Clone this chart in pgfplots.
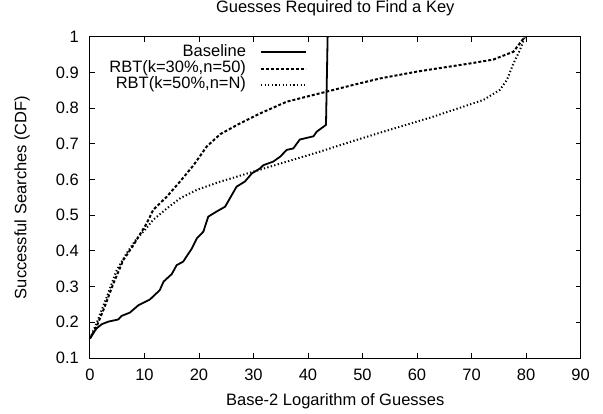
\documentclass[border=0pt]{standalone}
\usepackage{pgfplots}
\pgfplotsset{compat=1.18}
\usepackage{fontspec}
\setmainfont{Liberation Sans}

\begin{document}
\begin{tikzpicture}[font=\fontsize{16.56}{19}\selectfont]
\path[use as bounding box] (-90bp,-56bp) rectangle (513bp,358bp);
\begin{axis}[
  at={(0,0)}, anchor=south west,
  scale only axis,
  width=490.5bp, height=321.3bp,
  xmin=0, xmax=90, ymin=0.1, ymax=1,
  xtick={0,10,20,30,40,50,60,70,80,90},
  ytick={0.1,0.2,0.3,0.4,0.5,0.6,0.7,0.8,0.9,1},
  /pgf/number format/assume math mode=true,
  tick align=inside,
  major tick length=5bp,
  every tick/.style={black, line width=1bp},
  axis line style={line width=1bp},
  xticklabel style={anchor=base, inner sep=0pt, yshift=-22bp},
  yticklabel style={anchor=east, inner sep=0pt, xshift=-11bp},
  title={Guesses Required to Find a Key},
  title style={at={(axis description cs:0.5,1.0573)}, anchor=base, inner sep=0pt},
  xlabel={Base-2 Logarithm of Guesses},
  xlabel style={at={(axis description cs:0.5,-0.1463)}, anchor=base, inner sep=0pt},
  ylabel={Successful Searches (CDF)},
  ylabel style={at={(axis description cs:-0.1295,0.5)}, anchor=base, inner sep=0pt},
  legend plot pos=right,
  legend cell align=right,
  legend image code/.code={\draw[#1] (0bp,0bp) -- (45bp,0bp);},
  legend style={draw=none, fill=none, inner sep=0pt, outer sep=0pt,
    row sep=0pt, column sep=14bp,
    at={(axis description cs:0.4424,0.9764)}, anchor=north east,
    nodes={inner sep=0pt, text height=12bp, text depth=4.2bp}},
]
% Baseline
\addplot[black, line width=1.8bp, line join=round] table {
0    0.155
1.2  0.183
2.2  0.195
3.4  0.202
5.2  0.208
5.8  0.218
7.3  0.227
8.9  0.248
11   0.264
12.8 0.290
13.5 0.314
15   0.335
15.9 0.360
17.1 0.370
18.7 0.407
19.6 0.435
20.8 0.454
21.7 0.496
23.2 0.510
24.8 0.524
26.9 0.580
28.4 0.594
29.7 0.617
31.2 0.631
31.8 0.640
33.6 0.650
34.9 0.664
36.1 0.683
37.3 0.687
38.5 0.712
41   0.721
41.6 0.734
43.3 0.753
43.6 1.000
};
% RBT k=30%, n=50
\addplot[black, line width=2bp, dash pattern=on 3bp off 2bp] table {
0    0.155
1.2  0.188
2.45 0.234
4.3  0.309
6.1  0.374
8    0.417
10.4 0.477
11.6 0.515
14.1 0.552
16.5 0.594
19   0.640
21.4 0.692
23.9 0.727
27.5 0.757
31.2 0.785
36.1 0.818
43.4 0.846
48.3 0.865
53.2 0.883
59.9 0.902
69.7 0.925
74   0.936
77.7 0.958
79.8 1.000
};
% RBT k=50%, n=N
\addplot[black, line width=2bp, dash pattern=on 1.3bp off 2.3bp] table {
0    0.155
1.2  0.197
3.1  0.272
4.9  0.346
6.7  0.393
8.6  0.435
9.8  0.454
11.6 0.487
14.1 0.519
16.5 0.547
19.6 0.571
23.9 0.594
30   0.622
36.1 0.650
42.2 0.678
48.3 0.708
53.2 0.731
63   0.776
72.2 0.823
75.2 0.851
76.5 0.879
77.7 0.925
78.9 0.963
79.8 1.000
};
\legend{Baseline,{RBT(k=30\%,n=50)},{RBT(k=50\%,n=N)}}
\end{axis}
\end{tikzpicture}
\end{document}
